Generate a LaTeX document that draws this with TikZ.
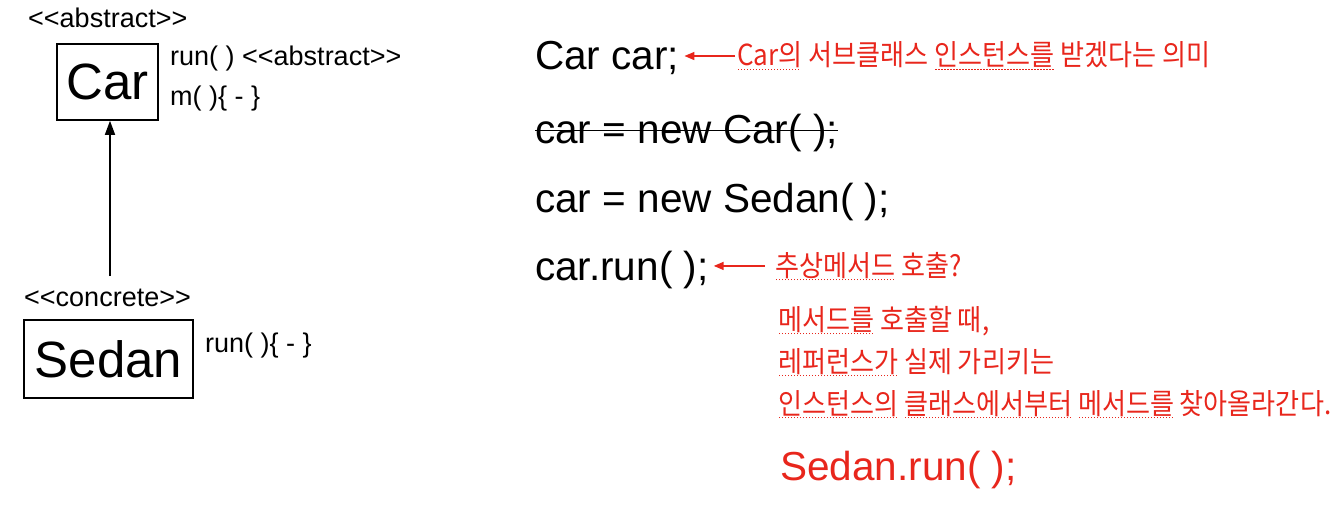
\documentclass[tikz,border=0pt]{standalone}
\usepackage{fontspec}
\setmainfont{Liberation Sans}
\newfontfamily\krfont[FakeStretch=0.9]{Noto Sans CJK KR}
\usepackage{xcolor}
\usepackage{tikz}
\usetikzlibrary{arrows.meta, positioning}
\definecolor{myred}{RGB}{232,38,28}
\newcommand\stereo[1]{<\kern0pt<#1>\kern0pt>}
\newcommand\squig[1]{\setbox0\hbox{#1}\rlap{\raisebox{-4pt}{\hbox to \wd0{\leaders\hbox to 3pt{\hss\rule{1.4pt}{1.4pt}\hss}\hfill}}}\box0\relax}
\tikzstyle{classbox} = [rectangle, draw=black, line width=1.6pt, inner sep=0pt, font=\fontsize{51}{51}\selectfont]
\tikzstyle{small} = [anchor=base west, inner sep=0pt, font=\fontsize{27}{27}\selectfont]
\tikzstyle{code} = [anchor=base west, inner sep=0pt, font=\fontsize{40.5}{40.5}\selectfont]
\tikzstyle{note} = [anchor=base west, inner sep=0pt, text=myred, font=\krfont\fontsize{29}{29}\selectfont]
\tikzstyle{arrow} = [line width=1.6pt, -{Triangle[length=14pt, width=10pt]}]
\tikzstyle{redarrow} = [draw=myred, line width=1.5pt, -{Triangle[length=10pt, width=8pt]}, fill=myred]

\begin{document}
\begin{tikzpicture}[x=1pt, y=-1pt]
    \useasboundingbox (0,0) rectangle (1340,511);
    % class diagram
    \node (abs) [small] at (28,28) {\stereo{abstract}};
    \node (car) [classbox, minimum width=101pt, minimum height=76pt] at (107.5,82) {Car};
    \node (carrun) [small] at (170,66) {run( ) \stereo{abstract}};
    \node (carm) [small] at (170,105) {m( )\{ - \}};
    \node (conc) [small] at (24,306) {\stereo{concrete}};
    \node (sedan) [classbox, minimum width=169pt, minimum height=78pt] at (108.5,359) {Sedan};
    \node (sedanrun) [small] at (205,352) {run( )\{ - \}};
    \coordinate (tail) at (110,276);
    \draw [arrow] (tail) -- (tail |- car.south);

    % code
    \node (decl) [code] at (535,70) {Car car;};
    \node (old) [code] at (535,143) {car = new Car( );};
    \draw [line width=1.6pt] ([yshift=2pt]old.west) -- ([yshift=2pt]old.east);
    \node (new) [code] at (535,212) {car = new Sedan( );};
    \node (call) [code] at (535,280) {car.run( );};

    % notes
    \node (n1) [note] at (737,66) {\squig{Car의} 서브클래스 \squig{인스턴스를} 받겠다는 의미};
    \draw [redarrow] ([xshift=-2pt]n1.west) -- ([xshift=5pt]n1.west -| decl.east);
    \node (n2) [note] at (775,276) {\squig{추상메서드} 호출?};
    \draw [redarrow] ([xshift=-10pt]n2.west) -- ([xshift=5pt]n2.west -| call.east);
    \node (n3) [note] at (778,330) {\squig{메서드를} 호출할 때,};
    \node (n4) [note] at (778,372) {\squig{레퍼런스가} 실제 가리키는};
    \node (n5) [note] at (778,414) {\squig{인스턴스의} \squig{클래스에서부터} \squig{메서드를} 찾아올라간다.};
    \node (res) [code, text=myred] at (780,480) {Sedan.run( );};
\end{tikzpicture}
\end{document}
